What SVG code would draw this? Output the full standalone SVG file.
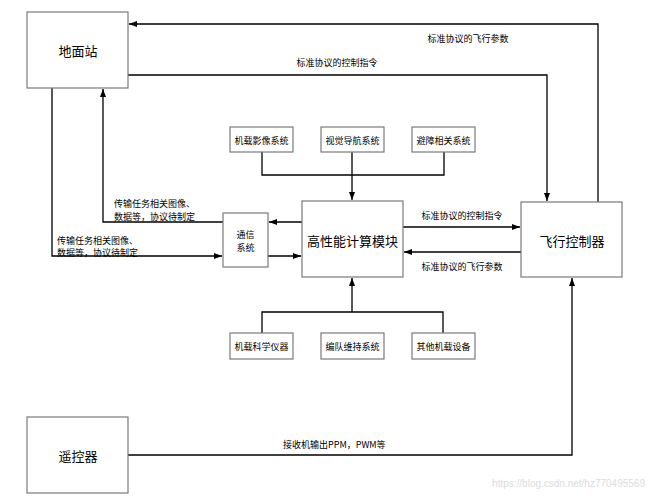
<svg xmlns="http://www.w3.org/2000/svg" width="650" height="503" viewBox="0 0 650 503">
<style>
.box{fill:#fff;stroke:#7a7a7a;stroke-width:1.2}
.ln{fill:none;stroke:#000;stroke-width:1.3}
.t{font-family:"Noto Sans CJK SC","Liberation Sans",sans-serif;fill:#000;dominant-baseline:central}
.big{font-size:13px;text-anchor:middle}
.sm{font-size:9px}
.mid{text-anchor:middle}
</style>
<defs>
<marker id="ah" markerUnits="userSpaceOnUse" markerWidth="9" markerHeight="7" refX="8" refY="3" orient="auto">
<path d="M0,0 L8,3 L0,6 z" fill="#000"/>
</marker>
</defs>
<rect width="650" height="503" fill="#fff"/>
<g id="connectors">
<path class="ln" d="M598,202 V24 H129" marker-end="url(#ah)"/>
<path class="ln" d="M128,75 H547 V201" marker-end="url(#ah)" stroke="#333"/>
<path class="ln" d="M52,88 V256 H222" marker-end="url(#ah)"/>
<path class="ln" d="M223,222 H103 V89" marker-end="url(#ah)"/>
<path class="ln" d="M302,222 H269" marker-end="url(#ah)"/>
<path class="ln" d="M268,256 H301" marker-end="url(#ah)"/>
<path class="ln" d="M403,227 H520" marker-end="url(#ah)"/>
<path class="ln" d="M521,252 H404" marker-end="url(#ah)"/>
<path class="ln" d="M262,152 V175 H444 V152"/>
<path class="ln" d="M352,152 V200" marker-end="url(#ah)"/>
<path class="ln" d="M262,333 V312 H443 V333"/>
<path class="ln" d="M352,312 V278" marker-end="url(#ah)"/>
<path class="ln" d="M128,455 H572 V278" marker-end="url(#ah)"/>
<text class="t sm mid" x="468" y="38">标准协议的飞行参数</text>
<text class="t sm mid" x="337" y="62">标准协议的控制指令</text>
<text class="t sm mid" x="462" y="215">标准协议的控制指令</text>
<text class="t sm mid" x="462" y="266">标准协议的飞行参数</text>
<text class="t sm" x="114" y="203">传输任务相关图像、</text>
<text class="t sm" x="114" y="216">数据等，协议待制定</text>
<text class="t sm" x="57" y="240">传输任务相关图像、</text>
<text class="t sm" x="57" y="252">数据等，协议待制定</text>
<text class="t sm" x="283" y="444">接收机输出PPM，PWM等</text>
</g>
<g id="ground-station"><rect class="box" x="27" y="12" width="101" height="76"/><text class="t big" x="78" y="50">地面站</text></g>
<g id="flight-controller"><rect class="box" x="521" y="202" width="101" height="75"/><text class="t big" x="572" y="240">飞行控制器</text></g>
<g id="hpc"><rect class="box" x="302" y="201" width="101" height="76"/><text class="t big" x="352.5" y="240">高性能计算模块</text></g>
<g id="comms"><rect class="box" x="223" y="213" width="45" height="54"/><text class="t sm mid" x="245.5" y="234">通信</text><text class="t sm mid" x="245.5" y="247">系统</text></g>
<g id="imaging"><rect class="box" x="230" y="127" width="63" height="25"/><text class="t sm mid" x="261.5" y="140">机载影像系统</text></g>
<g id="visual-nav"><rect class="box" x="321" y="127" width="63" height="25"/><text class="t sm mid" x="352.5" y="140">视觉导航系统</text></g>
<g id="obstacle"><rect class="box" x="412" y="127" width="63" height="25"/><text class="t sm mid" x="443.5" y="140">避障相关系统</text></g>
<g id="science"><rect class="box" x="230" y="333" width="63" height="26"/><text class="t sm mid" x="261.5" y="346">机载科学仪器</text></g>
<g id="formation"><rect class="box" x="321" y="333" width="63" height="26"/><text class="t sm mid" x="352.5" y="346">编队维持系统</text></g>
<g id="other"><rect class="box" x="412" y="333" width="63" height="26"/><text class="t sm mid" x="443.5" y="346">其他机载设备</text></g>
<g id="remote"><rect class="box" x="27" y="417" width="101" height="76"/><text class="t big" x="78" y="455">遥控器</text></g>
<text x="645" y="483" font-family="Liberation Sans,sans-serif" font-size="10" fill="#dcdcdc" text-anchor="end" dominant-baseline="central">https://blog.csdn.net/hz770495569</text>
</svg>
